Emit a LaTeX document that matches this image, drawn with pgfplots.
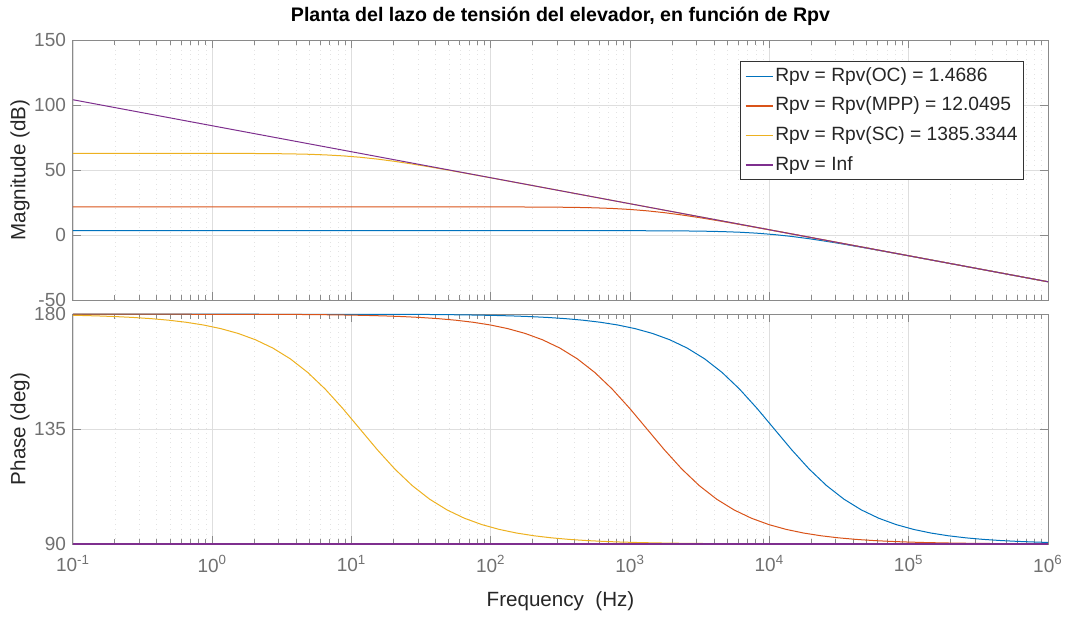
\documentclass[border=0pt]{standalone}
\usepackage{fontspec}
\setmainfont{Liberation Sans}
\usepackage{pgfplots}
\usepackage{pgfplotstable}
\pgfplotsset{compat=1.18}

\definecolor{cOC}{rgb}{0,0.447,0.741}
\definecolor{cMPP}{rgb}{0.85,0.325,0.098}
\definecolor{cSC}{rgb}{0.929,0.694,0.125}
\definecolor{cInf}{rgb}{0.494,0.184,0.556}
\definecolor{tickgray}{HTML}{707070}
\definecolor{boxgray}{HTML}{8A8A8A}
\definecolor{labgray}{HTML}{262626}

% Bode data: frequency (Hz), magnitude (dB), phase (deg)
\pgfplotstableread{
f mag ph
0.1 3.338 180.000
34.27 3.338 179.819
45.70 3.338 179.758
60.94 3.338 179.678
81.27 3.338 179.570
108.37 3.338 179.427
144.51 3.337 179.236
192.72 3.337 178.981
256.99 3.336 178.641
342.70 3.334 178.189
457.0 3.330 177.585
609.4 3.324 176.781
812.7 3.314 175.711
1083.7 3.295 174.289
1445.1 3.261 172.404
1927.2 3.203 169.916
2569.9 3.100 166.659
3427.0 2.924 162.452
4570 2.627 157.134
6094 2.145 150.649
8127 1.400 143.134
10837 0.328 135.000
14451 -1.100 126.866
19272 -2.855 119.351
25699 -4.873 112.866
34270 -7.076 107.548
45700 -9.400 103.341
60942 -11.797 100.084
81267 -14.239 97.596
108372 -16.705 95.711
144514 -19.186 94.289
192716 -21.676 93.219
256990 -24.170 92.415
342700 -26.666 91.811
457003 -29.164 91.359
609420 -31.663 91.019
812670 -34.163 90.764
1000000 -35.964 90.621
}\tblOC

\pgfplotstableread{
f mag ph
0.1 21.619 180.000
4.177 21.619 179.819
5.570 21.619 179.758
7.428 21.619 179.678
9.905 21.619 179.570
13.208 21.619 179.427
17.614 21.618 179.236
23.489 21.618 178.981
31.322 21.617 178.641
41.769 21.615 178.189
55.70 21.611 177.585
74.28 21.605 176.781
99.05 21.595 175.711
132.08 21.576 174.289
176.14 21.542 172.404
234.89 21.484 169.916
313.22 21.381 166.659
417.69 21.205 162.452
557.0 20.908 157.134
742.8 20.426 150.649
990.5 19.681 143.134
1320.8 18.609 135.000
1761.4 17.181 126.866
2348.9 15.426 119.351
3132.2 13.408 112.866
4176.9 11.205 107.548
5570 8.881 103.341
7428 6.484 100.084
9905 4.042 97.596
13208 1.576 95.711
17614 -0.905 94.289
23489 -3.395 93.219
31322 -5.889 92.415
41769 -8.385 91.811
55700 -10.883 91.359
74280 -13.382 91.019
99050 -15.882 90.764
132085 -18.381 90.573
176140 -20.881 90.430
234890 -23.381 90.322
313220 -25.881 90.242
417690 -28.381 90.181
1000000 -35.964 90.076
}\tblMPP

\pgfplotstableread{
f mag ph
0.1 62.831 179.501
0.114886 62.831 179.427
0.15320 62.830 179.236
0.20430 62.830 178.981
0.27244 62.829 178.641
0.36330 62.827 178.189
0.48447 62.823 177.585
0.64605 62.817 176.781
0.86152 62.807 175.711
1.14886 62.788 174.289
1.5320 62.754 172.404
2.0430 62.696 169.916
2.7244 62.593 166.659
3.6330 62.417 162.452
4.8447 62.120 157.134
6.4605 61.638 150.649
8.6152 60.893 143.134
11.4886 59.821 135.000
15.320 58.393 126.866
20.430 56.638 119.351
27.244 54.620 112.866
36.330 52.417 107.548
48.447 50.093 103.341
64.605 47.696 100.084
86.152 45.254 97.596
114.886 42.788 95.711
153.20 40.307 94.289
204.30 37.817 93.219
272.44 35.323 92.415
363.30 32.827 91.811
484.47 30.329 91.359
646.05 27.830 91.019
861.52 25.330 90.764
1148.86 22.831 90.573
1532.0 20.331 90.430
2043.0 17.831 90.322
2724.4 15.331 90.242
3633.0 12.831 90.181
11488.6 2.831 90.057
114886 -17.169 90.006
1000000 -35.964 90.001
}\tblSC

\pgfplotstableread{
f mag ph
0.1 104.036 90
1000000 -35.964 90
}\tblInf

\pgfplotsset{
  bodeaxis/.style={
    scale only axis, width=487.5pt,
    xmin=0.1, xmax=1e6,
    xtick={0.1,1,10,100,1000,10000,100000,1000000},
    minor xtick={0.2,0.3,0.4,0.5,0.6,0.7,0.8,0.9,
      2,3,4,5,6,7,8,9,20,30,40,50,60,70,80,90,
      200,300,400,500,600,700,800,900,
      2000,3000,4000,5000,6000,7000,8000,9000,
      20000,30000,40000,50000,60000,70000,80000,90000,
      200000,300000,400000,500000,600000,700000,800000,900000},
    xmajorgrids, xminorgrids, ymajorgrids,
    major grid style={draw=black!13, line width=0.4pt},
    minor grid style={draw=black!11, dotted, line width=0.4pt},
    axis line style={draw=boxgray, line width=0.5pt},
    tick style={draw=boxgray, line width=0.5pt},
    major tick length=4pt, minor tick length=2.5pt,
    tick align=inside,
    /pgf/number format/assume math mode=true,
    tick label style={font=\fontsize{9.5}{11}\selectfont, text=tickgray},
    label style={font=\fontsize{10.3}{12}\selectfont, text=labgray},
    every axis plot/.append style={line width=0.5pt},
  },
}

\begin{document}
\begin{tikzpicture}
\useasboundingbox (-36.5pt,-36.5pt) rectangle (498pt,272pt);

% Magnitude
\begin{axis}[xmode=log, bodeaxis,
  at={(0pt,122pt)}, anchor=south west, height=130pt,
  ymin=-50, ymax=150, ytick={-50,0,50,100,150},
  xticklabels={},
  ylabel={Magnitude (dB)},
  ylabel style={at={(axis description cs:-0.0544,0.5)}, anchor=center},
  title={Planta del lazo de tensión del elevador, en función de Rpv},
  title style={font=\bfseries\fontsize{9.8}{12}\selectfont, yshift=-2.5pt},
  legend style={at={(0.9754,0.919)}, anchor=north east,
    draw=black!80, line width=0.5pt, fill=white,
    font=\fontsize{9.6}{11}\selectfont,
    inner xsep=2pt, inner ysep=1.5pt, row sep=3pt,
    nodes={inner sep=1pt, text height=7.4pt, text depth=2.4pt, text=labgray}},
  legend cell align=left,
  legend image code/.code={\draw[#1, line width=0.75pt] (0pt,0pt) -- (13.5pt,0pt);},
]
\addplot[color=cOC, no marks] table[x=f, y=mag] {\tblOC};
\addplot[color=cMPP, no marks] table[x=f, y=mag] {\tblMPP};
\addplot[color=cSC, no marks] table[x=f, y=mag] {\tblSC};
\addplot[color=cInf, no marks] table[x=f, y=mag] {\tblInf};
\legend{Rpv = Rpv(OC) = 1.4686, Rpv = Rpv(MPP) = 12.0495,
        Rpv = Rpv(SC) = 1385.3344, Rpv = Inf}
\end{axis}

% Phase
\begin{axis}[xmode=log, bodeaxis,
  at={(0pt,0pt)}, anchor=south west, height=115pt,
  clip=false,
  ymin=90, ymax=180, ytick={90,135,180},
  xticklabels={10\textsuperscript{-1},10\textsuperscript{0},
    10\textsuperscript{1},10\textsuperscript{2},10\textsuperscript{3},
    10\textsuperscript{4},10\textsuperscript{5},10\textsuperscript{6}},
  xticklabel style={yshift=-2pt},
  ylabel={Phase (deg)},
  ylabel style={at={(axis description cs:-0.0544,0.5)}, anchor=center},
  xlabel={Frequency~~(Hz)},
  xlabel style={at={(axis description cs:0.5,-0.248)}, anchor=center},
]
\addplot[color=cOC, no marks] table[x=f, y=ph] {\tblOC};
\addplot[color=cMPP, no marks] table[x=f, y=ph] {\tblMPP};
\addplot[color=cSC, no marks] table[x=f, y=ph] {\tblSC};
\addplot[color=cInf, no marks, line width=0.8pt] table[x=f, y=ph] {\tblInf};
\end{axis}
\end{tikzpicture}
\end{document}
